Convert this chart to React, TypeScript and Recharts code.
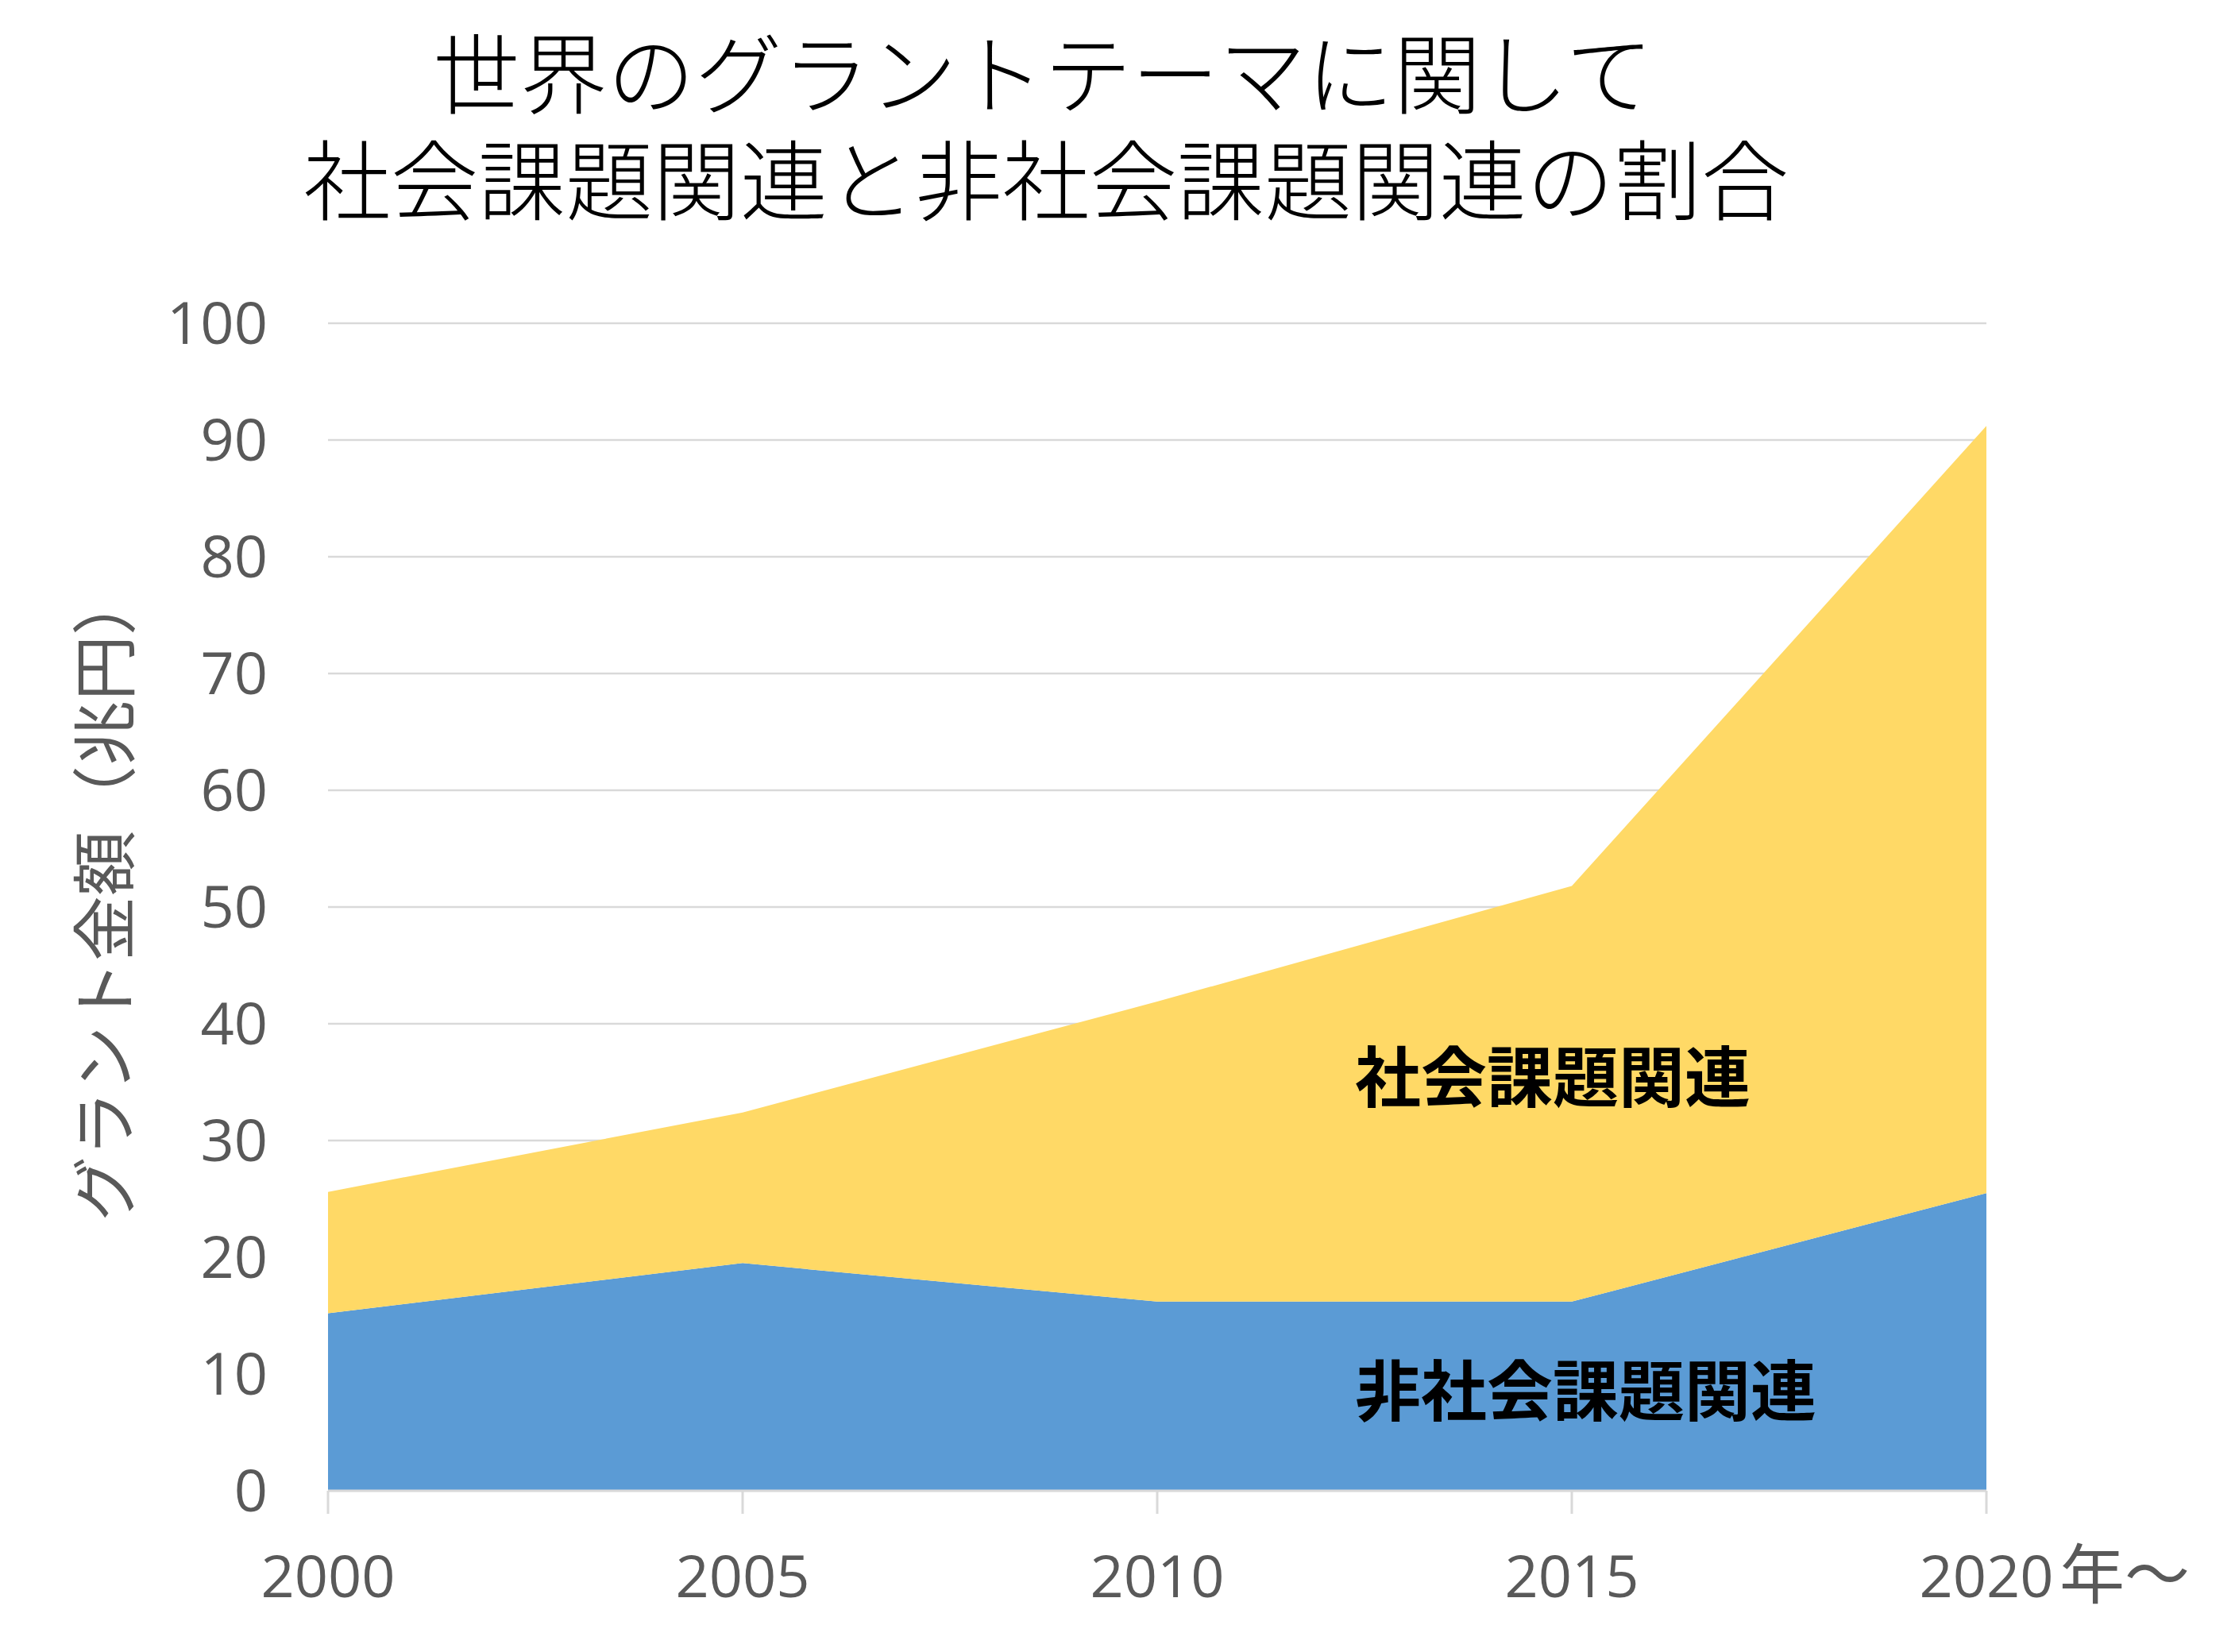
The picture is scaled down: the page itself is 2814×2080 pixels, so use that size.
import React from 'react';
import { AreaChart, Area, XAxis, YAxis, CartesianGrid } from 'recharts';

const years = ['2000', '2005', '2010', '2015', '2020'];
const nonSocial = [15.2, 19.5, 16.2, 16.2, 25.5];
const social = [10.4, 12.9, 25.7, 35.6, 65.7];
const yTicks = [0, 10, 20, 30, 40, 50, 60, 70, 80, 90, 100];

const titleLine1 = '世界のグラントテーマに関して';
const titleLine2 = '社会課題関連と非社会課題関連の割合';
const yLabel = 'グラント金額（兆円）';
const socialLabel = '社会課題関連';
const nonSocialLabel = '非社会課題関連';
const lastSuffix = '年～';

const data = years.map((y, i) => ({ year: y, nonSocial: nonSocial[i], social: social[i] }));

const W = 2814;
const H = 2080;
const GRAY = '#595959';
const LIGHT = '#D9D9D9';
const NUM_FONT = '"Open Sans", "Noto Sans", sans-serif';
const JP_FONT = '"Noto Sans CJK JP", "Noto Sans", sans-serif';

const XTick = (props: any) => {
  const { x, y, payload } = props;
  const isLast = payload.value === years[years.length - 1];
  return (
    <g>
      <text x={x} y={y + 52} textAnchor="middle" fontFamily={NUM_FONT} fontSize={74} fill={GRAY}>
        {payload.value}
      </text>
      {isLast && (
        <text x={x + 92} y={y + 53} textAnchor="start" fontFamily={JP_FONT} fontSize={82} fill={GRAY}>
          {lastSuffix}
        </text>
      )}
    </g>
  );
};

export default function App() {
  return (
    <div style={{ position: 'absolute', left: 0, top: 0, width: W, height: H, background: '#fff' }}>
      <AreaChart
        width={W}
        height={H}
        data={data}
        margin={{ top: 407, right: 313, bottom: 0, left: 0 }}
      >
        <CartesianGrid vertical={false} stroke={LIGHT} strokeWidth={2.5} />
        <XAxis
          dataKey="year"
          height={203}
          axisLine={{ stroke: LIGHT, strokeWidth: 3 }}
          tickLine={{ stroke: LIGHT, strokeWidth: 3 }}
          tickSize={29}
          tickMargin={53}
          tick={<XTick />}
          interval={0}
        />
        <YAxis
          width={413}
          domain={[0, 100]}
          ticks={yTicks}
          interval={0}
          axisLine={false}
          tickLine={false}
          tickSize={0}
          tickMargin={76}
          tick={{ fontFamily: NUM_FONT, fontSize: 74, fill: GRAY }}
        />
        <Area
          type="linear"
          dataKey="nonSocial"
          stackId="a"
          stroke="none"
          fill="#5B9BD5"
          fillOpacity={1}
          isAnimationActive={false}
        />
        <Area
          type="linear"
          dataKey="social"
          stackId="a"
          stroke="none"
          fill="#FFD966"
          fillOpacity={1}
          isAnimationActive={false}
        />
      </AreaChart>
      <svg
        width={W}
        height={H}
        style={{ position: 'absolute', left: 0, top: 0, pointerEvents: 'none' }}
      >
        <text x={1313} y={135} textAnchor="middle" fontFamily={JP_FONT} fontWeight={300} fontSize={110} fill="#000">
          {titleLine1}
        </text>
        <text x={1317} y={269} textAnchor="middle" fontFamily={JP_FONT} fontWeight={300} fontSize={110} fill="#000">
          {titleLine2}
        </text>
        <text
          transform="translate(126, 1128) rotate(-90)"
          textAnchor="middle"
          dominantBaseline="central"
          fontFamily={JP_FONT}
          fontSize={82}
          fill={GRAY}
        >
          {yLabel}
        </text>
        <text x={1706} y={1387} textAnchor="start" fontFamily={JP_FONT} fontWeight={700} fontSize={83} fill="#000">
          {socialLabel}
        </text>
        <text x={1706} y={1782} textAnchor="start" fontFamily={JP_FONT} fontWeight={700} fontSize={83} fill="#000">
          {nonSocialLabel}
        </text>
      </svg>
    </div>
  );
}
